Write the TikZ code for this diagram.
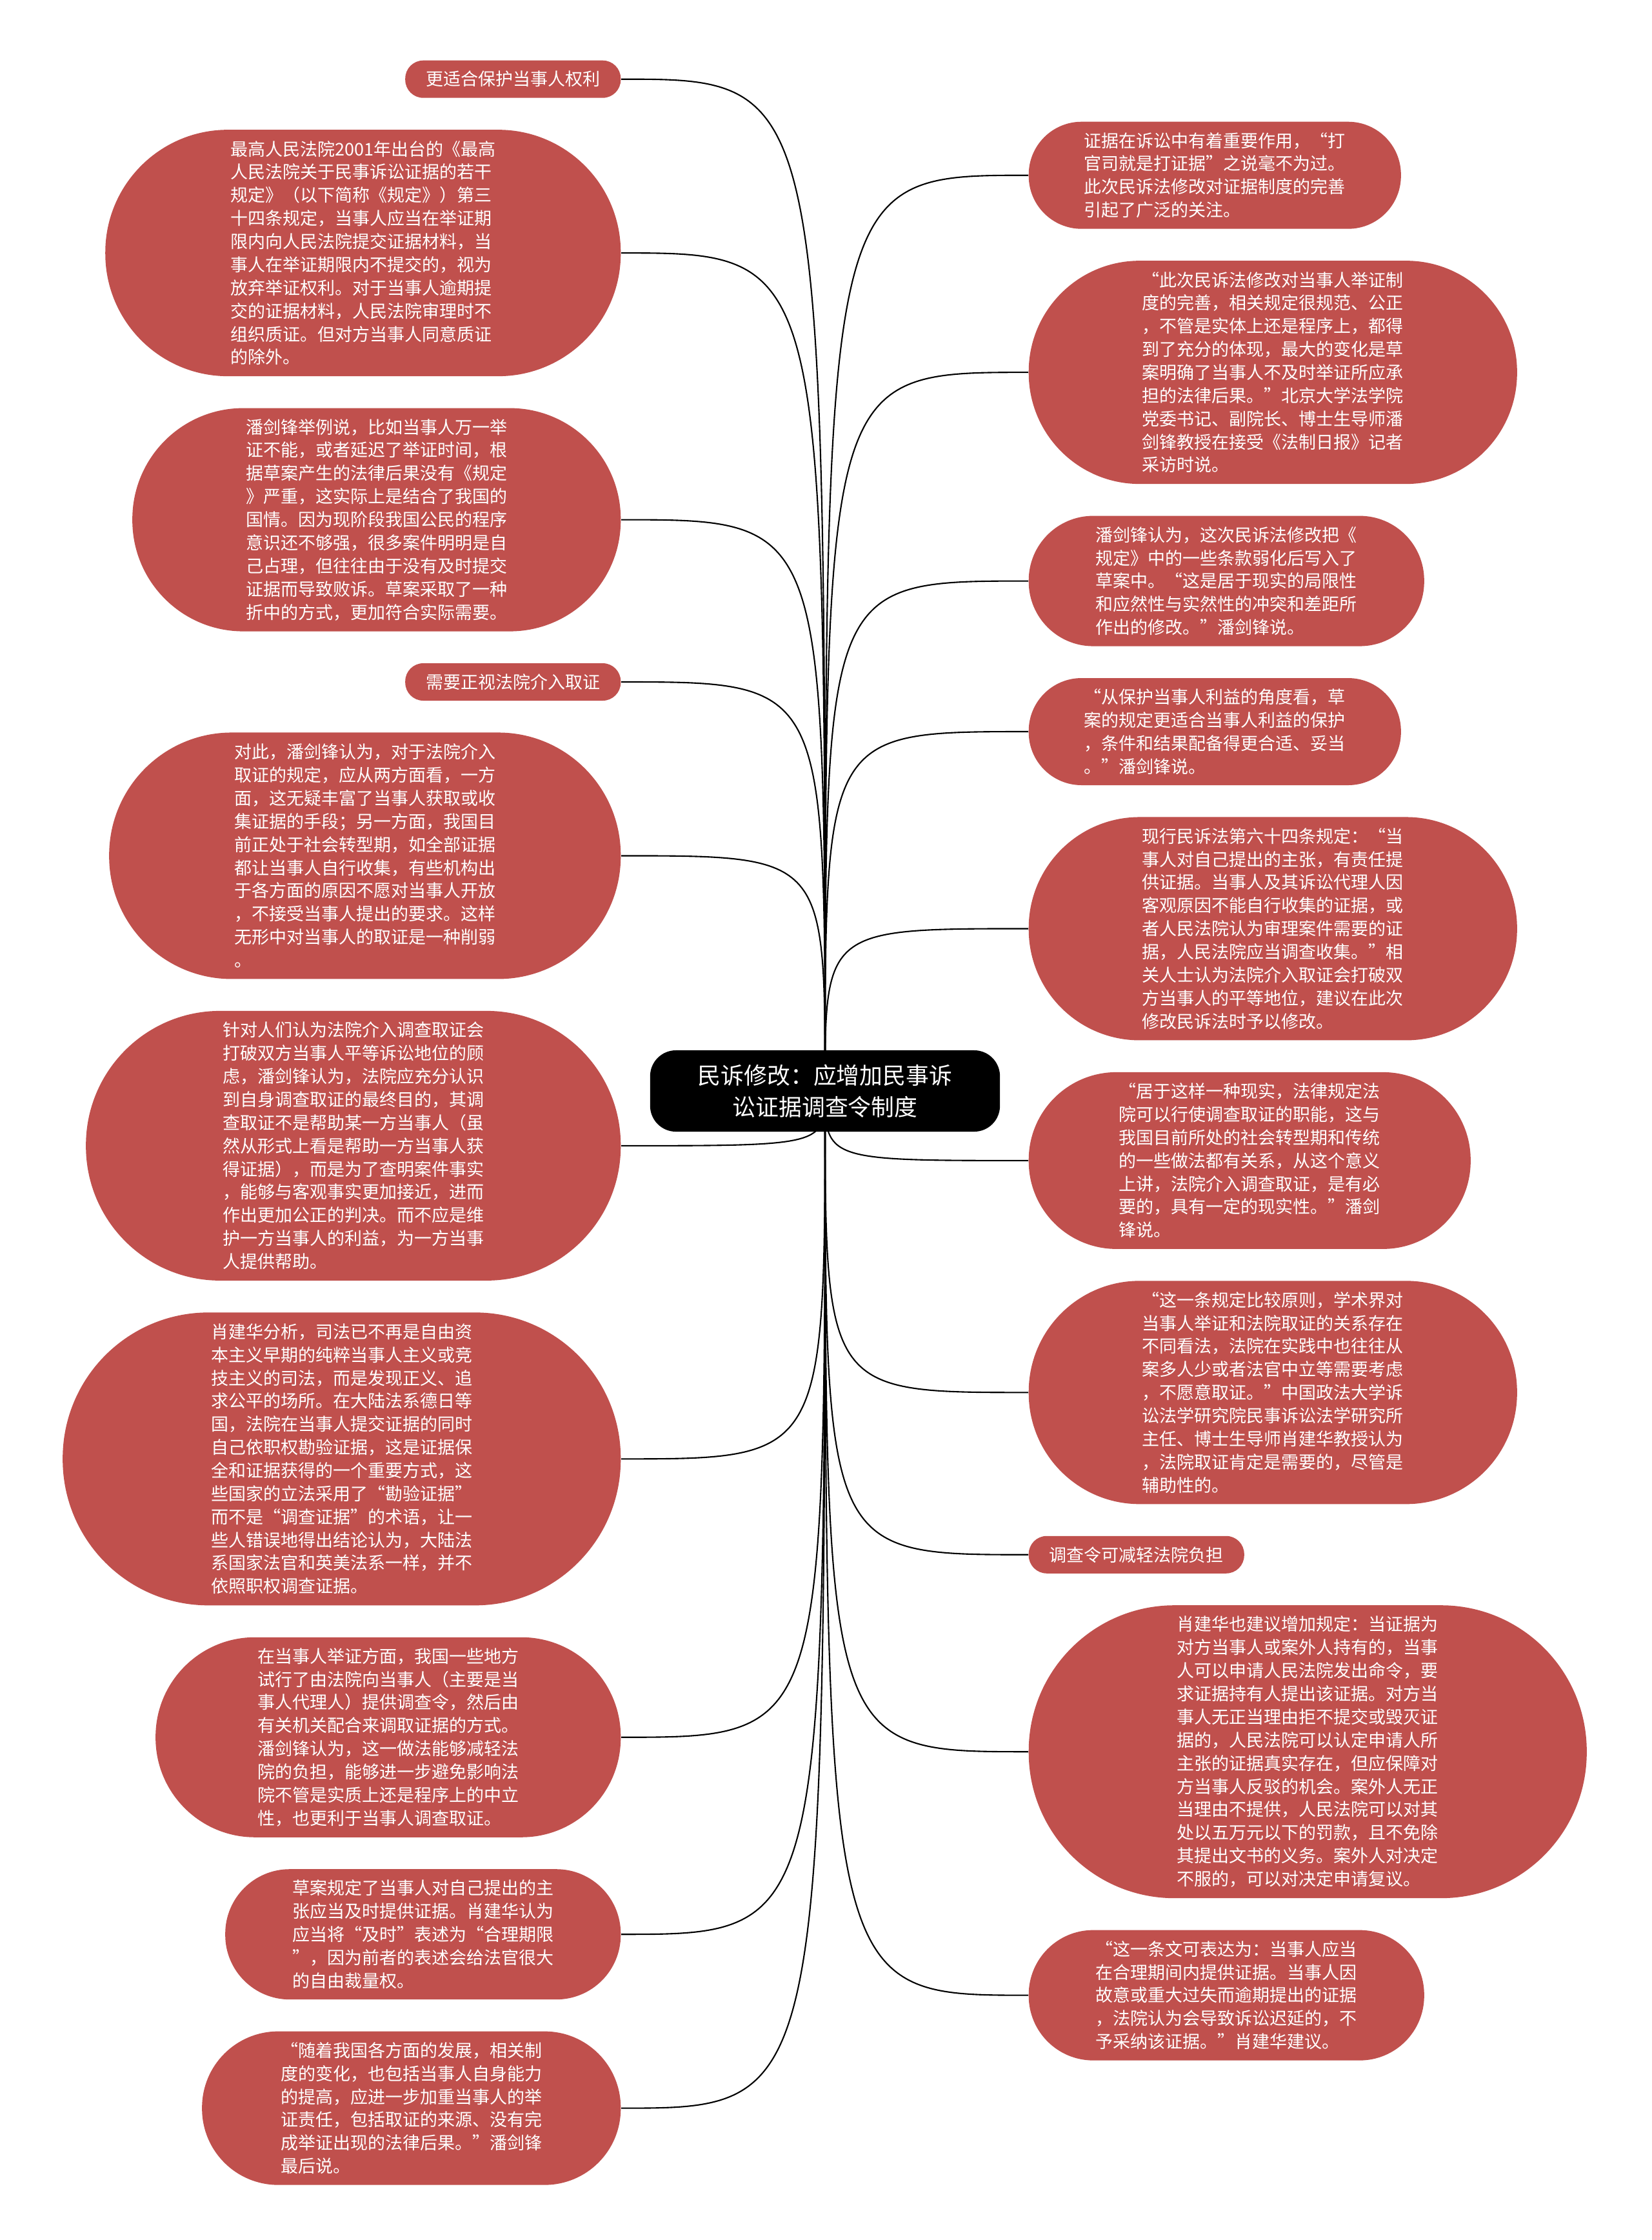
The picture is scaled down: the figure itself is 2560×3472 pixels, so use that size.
\documentclass[tikz,border=0pt]{standalone}
\usepackage{fontspec}
\usetikzlibrary{positioning,backgrounds}
\newfontfamily\cjk{Noto Sans CJK SC}
\definecolor{leafred}{HTML}{C0504D}
\newcommand\leaffont{\cjk\fontsize{7.68pt}{10.2pt}\selectfont}
\newcommand\hubfont{\cjk\fontsize{10.2pt}{13.9pt}\selectfont}
\tikzset{
  % #1 = number of text lines; the ends are half circles
  leaf/.style={rectangle, fill=leafred, text=white, font=\leaffont, align=left,
    minimum height={(36*#1+22)*0.01cm}, rounded corners={(18*#1+10)*0.01cm},
    inner xsep={(18*#1+14)*0.01cm}, inner ysep=0.1cm},
  leaf/.default=1,
  hubbox/.style={rectangle, rounded corners=0.4cm, fill=black, text=white,
    font=\hubfont, align=center, minimum width=5.42cm, minimum height=1.26cm},
  link/.style={line width=0.6pt, black},
}

\begin{document}
\begin{tikzpicture}[x=0.01cm, y=-0.01cm, node distance=0.48cm]
\useasboundingbox (0,0) rectangle (2560,3472);

% ---- hub ----
\node[hubbox] (hub) at (1279,1691) {民诉修改：应增加民事诉\\讼证据调查令制度};

% ---- left branch ----
\node[leaf, anchor=north east] (l1) at (963,93) {更适合保护当事人权利};
\node[leaf=10, below=of l1.south east, anchor=north east] (l2)
  {最高人民法院2001年出台的《最高\\人民法院关于民事诉讼证据的若干\\规定》（以下简称《规定》）第三\\十四条规定，当事人应当在举证期\\限内向人民法院提交证据材料，当\\事人在举证期限内不提交的，视为\\放弃举证权利。对于当事人逾期提\\交的证据材料，人民法院审理时不\\组织质证。但对方当事人同意质证\\的除外。};
\node[leaf=9, below=of l2.south east, anchor=north east] (l3)
  {潘剑锋举例说，比如当事人万一举\\证不能，或者延迟了举证时间，根\\据草案产生的法律后果没有《规定\\》严重，这实际上是结合了我国的\\国情。因为现阶段我国公民的程序\\意识还不够强，很多案件明明是自\\己占理，但往往由于没有及时提交\\证据而导致败诉。草案采取了一种\\折中的方式，更加符合实际需要。};
\node[leaf, below=of l3.south east, anchor=north east] (l4) {需要正视法院介入取证};
\node[leaf=10, below=of l4.south east, anchor=north east] (l5)
  {对此，潘剑锋认为，对于法院介入\\取证的规定，应从两方面看，一方\\面，这无疑丰富了当事人获取或收\\集证据的手段；另一方面，我国目\\前正处于社会转型期，如全部证据\\都让当事人自行收集，有些机构出\\于各方面的原因不愿对当事人开放\\，不接受当事人提出的要求。这样\\无形中对当事人的取证是一种削弱\\。};
\node[leaf=11, below=of l5.south east, anchor=north east] (l6)
  {针对人们认为法院介入调查取证会\\打破双方当事人平等诉讼地位的顾\\虑，潘剑锋认为，法院应充分认识\\到自身调查取证的最终目的，其调\\查取证不是帮助某一方当事人（虽\\然从形式上看是帮助一方当事人获\\得证据），而是为了查明案件事实\\，能够与客观事实更加接近，进而\\作出更加公正的判决。而不应是维\\护一方当事人的利益，为一方当事\\人提供帮助。};
\node[leaf=12, below=of l6.south east, anchor=north east] (l7)
  {肖建华分析，司法已不再是自由资\\本主义早期的纯粹当事人主义或竞\\技主义的司法，而是发现正义、追\\求公平的场所。在大陆法系德日等\\国，法院在当事人提交证据的同时\\自己依职权勘验证据，这是证据保\\全和证据获得的一个重要方式，这\\些国家的立法采用了“勘验证据”\\而不是“调查证据”的术语，让一\\些人错误地得出结论认为，大陆法\\系国家法官和英美法系一样，并不\\依照职权调查证据。};
\node[leaf=8, below=of l7.south east, anchor=north east] (l8)
  {在当事人举证方面，我国一些地方\\试行了由法院向当事人（主要是当\\事人代理人）提供调查令，然后由\\有关机关配合来调取证据的方式。\\潘剑锋认为，这一做法能够减轻法\\院的负担，能够进一步避免影响法\\院不管是实质上还是程序上的中立\\性，也更利于当事人调查取证。};
\node[leaf=5, below=of l8.south east, anchor=north east] (l9)
  {草案规定了当事人对自己提出的主\\张应当及时提供证据。肖建华认为\\应当将“及时”表述为“合理期限\\”，因为前者的表述会给法官很大\\的自由裁量权。};
\node[leaf=6, below=of l9.south east, anchor=north east] (l10)
  {“随着我国各方面的发展，相关制\\度的变化，也包括当事人自身能力\\的提高，应进一步加重当事人的举\\证责任，包括取证的来源、没有完\\成举证出现的法律后果。”潘剑锋\\最后说。};

% ---- right branch ----
\node[leaf=4, anchor=north west] (r1) at (1594,188)
  {证据在诉讼中有着重要作用，“打\\官司就是打证据”之说毫不为过。\\此次民诉法修改对证据制度的完善\\引起了广泛的关注。};
\node[leaf=9, below=of r1.south west, anchor=north west] (r2)
  {“此次民诉法修改对当事人举证制\\度的完善，相关规定很规范、公正\\，不管是实体上还是程序上，都得\\到了充分的体现，最大的变化是草\\案明确了当事人不及时举证所应承\\担的法律后果。”北京大学法学院\\党委书记、副院长、博士生导师潘\\剑锋教授在接受《法制日报》记者\\采访时说。};
\node[leaf=5, below=of r2.south west, anchor=north west] (r3)
  {潘剑锋认为，这次民诉法修改把《\\规定》中的一些条款弱化后写入了\\草案中。“这是居于现实的局限性\\和应然性与实然性的冲突和差距所\\作出的修改。”潘剑锋说。};
\node[leaf=4, below=of r3.south west, anchor=north west] (r4)
  {“从保护当事人利益的角度看，草\\案的规定更适合当事人利益的保护\\，条件和结果配备得更合适、妥当\\。”潘剑锋说。};
\node[leaf=9, below=of r4.south west, anchor=north west] (r5)
  {现行民诉法第六十四条规定：“当\\事人对自己提出的主张，有责任提\\供证据。当事人及其诉讼代理人因\\客观原因不能自行收集的证据，或\\者人民法院认为审理案件需要的证\\据，人民法院应当调查收集。”相\\关人士认为法院介入取证会打破双\\方当事人的平等地位，建议在此次\\修改民诉法时予以修改。};
\node[leaf=7, below=of r5.south west, anchor=north west] (r6)
  {“居于这样一种现实，法律规定法\\院可以行使调查取证的职能，这与\\我国目前所处的社会转型期和传统\\的一些做法都有关系，从这个意义\\上讲，法院介入调查取证，是有必\\要的，具有一定的现实性。”潘剑\\锋说。};
\node[leaf=9, below=of r6.south west, anchor=north west] (r7)
  {“这一条规定比较原则，学术界对\\当事人举证和法院取证的关系存在\\不同看法，法院在实践中也往往从\\案多人少或者法官中立等需要考虑\\，不愿意取证。”中国政法大学诉\\讼法学研究院民事诉讼法学研究所\\主任、博士生导师肖建华教授认为\\，法院取证肯定是需要的，尽管是\\辅助性的。};
\node[leaf, below=of r7.south west, anchor=north west] (r8) {调查令可减轻法院负担};
\node[leaf=12, below=of r8.south west, anchor=north west] (r9)
  {肖建华也建议增加规定：当证据为\\对方当事人或案外人持有的，当事\\人可以申请人民法院发出命令，要\\求证据持有人提出该证据。对方当\\事人无正当理由拒不提交或毁灭证\\据的，人民法院可以认定申请人所\\主张的证据真实存在，但应保障对\\方当事人反驳的机会。案外人无正\\当理由不提供，人民法院可以对其\\处以五万元以下的罚款，且不免除\\其提出文书的义务。案外人对决定\\不服的，可以对决定申请复议。};
\node[leaf=5, below=of r9.south west, anchor=north west] (r10)
  {“这一条文可表达为：当事人应当\\在合理期间内提供证据。当事人因\\故意或重大过失而逾期提出的证据\\，法院认为会导致诉讼迟延的，不\\予采纳该证据。”肖建华建议。};

% ---- links ----
\begin{scope}[on background layer]
\fill[white] (0,0) rectangle (2560,3472);
\draw[link] (hub.center) .. controls (hub.center |- l1.east) .. (l1.east);
\draw[link] (hub.center) .. controls (hub.center |- l2.east) .. (l2.east);
\draw[link] (hub.center) .. controls (hub.center |- l3.east) .. (l3.east);
\draw[link] (hub.center) .. controls (hub.center |- l4.east) .. (l4.east);
\draw[link] (hub.center) .. controls (hub.center |- l5.east) .. (l5.east);
\draw[link] (hub.center) .. controls (hub.center |- l6.east) .. (l6.east);
\draw[link] (hub.center) .. controls (hub.center |- l7.east) .. (l7.east);
\draw[link] (hub.center) .. controls (hub.center |- l8.east) .. (l8.east);
\draw[link] (hub.center) .. controls (hub.center |- l9.east) .. (l9.east);
\draw[link] (hub.center) .. controls (hub.center |- l10.east) .. (l10.east);
\draw[link] (hub.center) .. controls (hub.center |- r1.west) .. (r1.west);
\draw[link] (hub.center) .. controls (hub.center |- r2.west) .. (r2.west);
\draw[link] (hub.center) .. controls (hub.center |- r3.west) .. (r3.west);
\draw[link] (hub.center) .. controls (hub.center |- r4.west) .. (r4.west);
\draw[link] (hub.center) .. controls (hub.center |- r5.west) .. (r5.west);
\draw[link] (hub.center) .. controls (hub.center |- r6.west) .. (r6.west);
\draw[link] (hub.center) .. controls (hub.center |- r7.west) .. (r7.west);
\draw[link] (hub.center) .. controls (hub.center |- r8.west) .. (r8.west);
\draw[link] (hub.center) .. controls (hub.center |- r9.west) .. (r9.west);
\draw[link] (hub.center) .. controls (hub.center |- r10.west) .. (r10.west);
\end{scope}

\end{tikzpicture}
\end{document}
